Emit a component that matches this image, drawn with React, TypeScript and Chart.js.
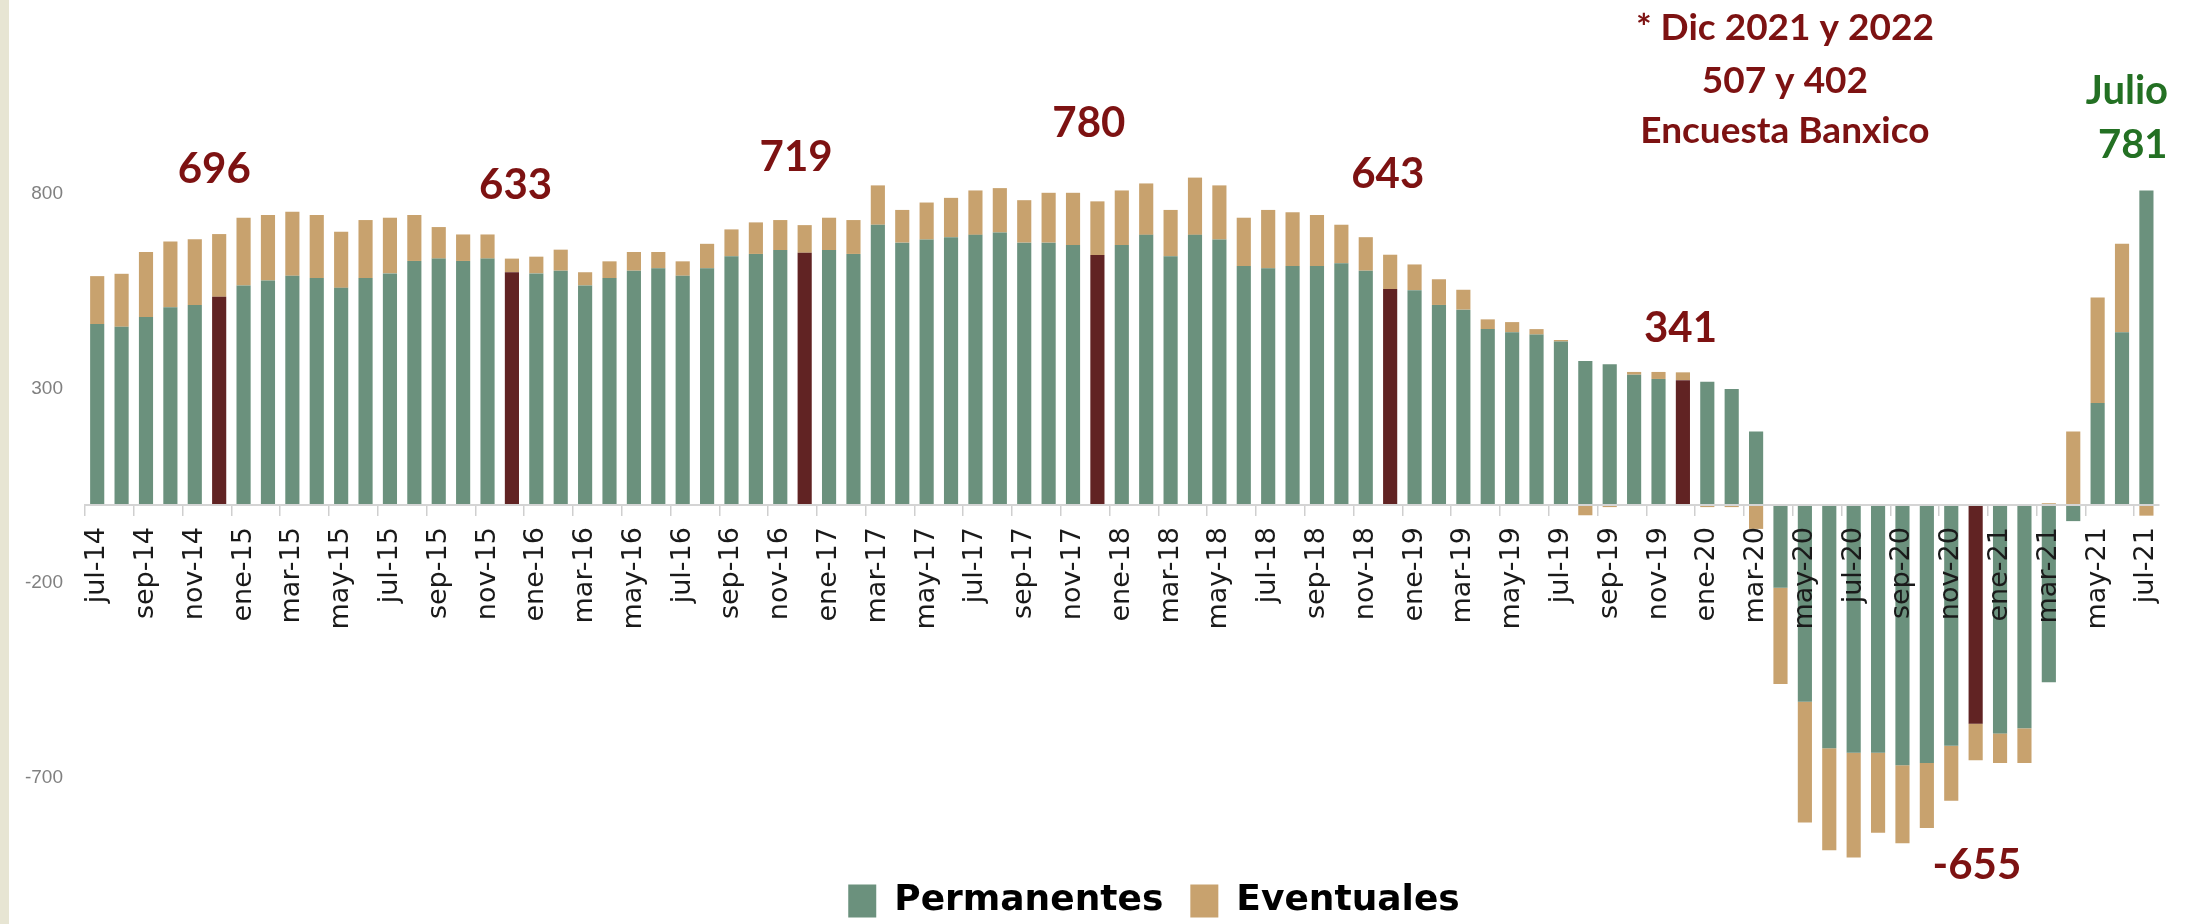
import React, { useEffect, useRef } from 'react';
import { Chart, registerables } from 'chart.js';

Chart.register(...registerables);

const months = [
  'jul-14', 'ago-14', 'sep-14', 'oct-14', 'nov-14', 'dic-14',
  'ene-15', 'feb-15', 'mar-15', 'abr-15', 'may-15', 'jun-15', 'jul-15', 'ago-15', 'sep-15', 'oct-15', 'nov-15', 'dic-15',
  'ene-16', 'feb-16', 'mar-16', 'abr-16', 'may-16', 'jun-16', 'jul-16', 'ago-16', 'sep-16', 'oct-16', 'nov-16', 'dic-16',
  'ene-17', 'feb-17', 'mar-17', 'abr-17', 'may-17', 'jun-17', 'jul-17', 'ago-17', 'sep-17', 'oct-17', 'nov-17', 'dic-17',
  'ene-18', 'feb-18', 'mar-18', 'abr-18', 'may-18', 'jun-18', 'jul-18', 'ago-18', 'sep-18', 'oct-18', 'nov-18', 'dic-18',
  'ene-19', 'feb-19', 'mar-19', 'abr-19', 'may-19', 'jun-19', 'jul-19', 'ago-19', 'sep-19', 'oct-19', 'nov-19', 'dic-19',
  'ene-20', 'feb-20', 'mar-20', 'abr-20', 'may-20', 'jun-20', 'jul-20', 'ago-20', 'sep-20', 'oct-20', 'nov-20', 'dic-20',
  'ene-21', 'feb-21', 'mar-21', 'abr-21', 'may-21', 'jun-21', 'jul-21',
];

const permanentes = [
  465, 458, 483, 508, 514, 535,
  564, 577, 589, 583, 558, 583, 595, 627, 633, 627, 633, 598,
  595, 602, 564, 583, 602, 608, 589, 608, 639, 645, 655, 648,
  655, 645, 720, 674, 682, 688, 694, 700, 674, 674, 668, 642,
  668, 694, 639, 694, 682, 614, 608, 614, 614, 621, 602, 555,
  552, 514, 502, 452, 444, 438, 420, 370, 362, 335, 324, 321,
  317, 298, 189, -212, -505, -624, -636, -636, -668, -662, -618, -561,
  -586, -573, -455, -41, 262, 444, 808,
];

const eventuales = [
  123, 136, 167, 169, 169, 161,
  174, 168, 164, 162, 144, 149, 143, 118, 81, 68, 62, 35,
  43, 54, 34, 43, 48, 42, 37, 63, 69, 81, 77, 71,
  83, 87, 101, 84, 95, 101, 114, 114, 109, 128, 134, 138,
  140, 132, 119, 147, 139, 124, 150, 138, 131, 99, 86, 88,
  66, 66, 51, 25, 26, 14, 4, -26, -5, 7, 18, 20,
  -5, -5, -61, -247, -310, -262, -269, -205, -200, -167, -141, -94,
  -76, -89, 5, 189, 271, 227, -27,
];

const yTicks = [-700, -200, 300, 800];

// December totals annotated above each December bar (category index, value)
const decTexts = ['696', '633', '719', '780', '643', '341', '-655'];
const decAnchorIdx = [4.8, 17.15, 28.65, 40.65, 52.9, 64.9, 77.05];
const decAnchorVal = [863, 822, 893, 981, 850, 454, -924];

const noteTexts = ['* Dic 2021 y 2022', '507 y 402', 'Encuesta Banxico'];
const noteAnchorIdx = [69.18, 69.18, 69.18];
const noteAnchorVal = [1225, 1089, 960];

const julioTexts = ['Julio', '781'];
const julioAnchorIdx = [83.2, 83.44];
const julioAnchorVal = [1063, 924];

const GREEN = '#6B917D';
const TAN = '#C8A26E';
const DARK = '#612323';
const MAROON = '#7d1212';
const TEXTGREEN = '#237023';

const bgPlugin = {
  id: 'bgPlugin',
  beforeDraw(chart: any) {
    const { ctx, width, height } = chart;
    ctx.save();
    ctx.fillStyle = '#ffffff';
    ctx.fillRect(0, 0, width, height);
    ctx.fillStyle = '#e7e5d3';
    ctx.fillRect(0, 0, 9, height);
    ctx.restore();
  },
};

const legendShift = {
  id: 'legendShift',
  afterLayout(chart: any) {
    const lg = chart.legend;
    if (lg) {
      lg.left += 74;
      lg.right += 74;
      lg.top += 5;
      lg.bottom += 5;
    }
  },
};

const annotationPlugin = {
  id: 'annotationPlugin',
  afterDraw(chart: any) {
    const { ctx } = chart;
    const x = chart.scales.x;
    const y = chart.scales.y;
    ctx.save();
    ctx.textAlign = 'center';
    ctx.textBaseline = 'middle';
    ctx.fillStyle = MAROON;
    ctx.font = 'bold 42px Lato';
    decTexts.forEach((t, i) => {
      ctx.fillText(t, x.getPixelForValue(decAnchorIdx[i]), y.getPixelForValue(decAnchorVal[i]));
    });
    ctx.font = 'bold 37px Lato';
    noteTexts.forEach((t, i) => {
      ctx.fillText(t, x.getPixelForValue(noteAnchorIdx[i]), y.getPixelForValue(noteAnchorVal[i]));
    });
    ctx.fillStyle = TEXTGREEN;
    ctx.font = 'bold 40px Lato';
    julioTexts.forEach((t, i) => {
      ctx.fillText(t, x.getPixelForValue(julioAnchorIdx[i]), y.getPixelForValue(julioAnchorVal[i]));
    });
    ctx.restore();
  },
};

export default function App() {
  const ref = useRef<HTMLCanvasElement | null>(null);

  useEffect(() => {
    document.body.style.margin = '0';
    const canvas = ref.current;
    if (!canvas) return;
    const chart = new Chart(canvas, {
      type: 'bar',
      data: {
        labels: months,
        datasets: [
          {
            label: 'Permanentes',
            data: permanentes,
            backgroundColor: (c: any) =>
              c.dataIndex !== undefined && months[c.dataIndex] && months[c.dataIndex].startsWith('dic') ? DARK : GREEN,
            borderWidth: 0,
            barPercentage: 0.58,
            categoryPercentage: 1,
            clip: false,
          },
          {
            label: 'Eventuales',
            data: eventuales,
            backgroundColor: TAN,
            borderWidth: 0,
            barPercentage: 0.58,
            categoryPercentage: 1,
            clip: false,
          },
        ],
      },
      options: {
        responsive: false,
        maintainAspectRatio: false,
        animation: false,
        layout: { padding: { left: 0, right: 31, top: 0, bottom: 0 } },
        plugins: {
          legend: {
            position: 'bottom',
            labels: {
              font: { family: 'DejaVu Sans', size: 36, weight: 'bold' },
              color: '#000000',
              boxWidth: 28,
              boxHeight: 33,
              padding: 27,
            },
          },
          tooltip: { enabled: false },
        },
        scales: {
          x: {
            stacked: true,
            position: { y: 0 } as any,
            offset: true,
            grid: {
              offset: true,
              drawOnChartArea: false,
              drawTicks: true,
              tickLength: 10,
              lineWidth: 1.5,
              z: 1,
              color: (c: any) => (c.index % 2 === 0 ? '#cfcfcf' : 'rgba(0,0,0,0)'),
            },
            border: { display: true, color: '#d4d4d4', width: 2, z: 1 },
            ticks: {
              z: 1,
              autoSkip: false,
              maxRotation: 90,
              minRotation: 90,
              padding: 12,
              color: '#1a1a1a',
              font: { family: 'DejaVu Sans', size: 27 },
              callback: (_v: any, i: number) => (i % 2 === 0 ? months[i] : ''),
            },
          },
          y: {
            stacked: true,
            min: -888,
            max: 1297,
            afterBuildTicks: (s: any) => {
              s.ticks = yTicks.map((v) => ({ value: v }));
            },
            afterFit: (s: any) => {
              s.width = 85;
              s.paddingTop = 0;
              s.paddingBottom = 0;
            },
            grid: { display: false, drawTicks: false },
            border: { display: false },
            ticks: {
              padding: 22,
              color: '#808080',
              font: { family: 'Liberation Sans', size: 19 },
            },
          },
        },
      },
      plugins: [bgPlugin, legendShift, annotationPlugin],
    } as any);
    return () => chart.destroy();
  }, []);

  return <canvas ref={ref} width={2191} height={924} style={{ display: 'block' }} />;
}
